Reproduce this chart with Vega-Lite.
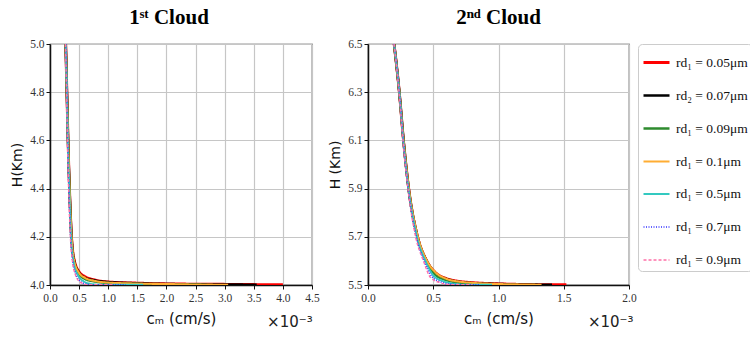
{
  "$schema": "https://vega.github.io/schema/vega-lite/v6.json",
  "padding": {"left": 10, "top": 6, "right": 0, "bottom": 0},
  "background": "white",
  "datasets": {
    "curves": [
      {"cloud":1,"series":"rd₁ = 0.05μm","x":0.27,"H":5.0},{"cloud":1,"series":"rd₁ = 0.05μm","x":0.29,"H":4.8},{"cloud":1,"series":"rd₁ = 0.05μm","x":0.31,"H":4.6},{"cloud":1,"series":"rd₁ = 0.05μm","x":0.335,"H":4.4},{"cloud":1,"series":"rd₁ = 0.05μm","x":0.37,"H":4.2},{"cloud":1,"series":"rd₁ = 0.05μm","x":0.42,"H":4.1},{"cloud":1,"series":"rd₁ = 0.05μm","x":0.5,"H":4.055},{"cloud":1,"series":"rd₁ = 0.05μm","x":0.6,"H":4.035},{"cloud":1,"series":"rd₁ = 0.05μm","x":0.75,"H":4.022},{"cloud":1,"series":"rd₁ = 0.05μm","x":1.0,"H":4.013},{"cloud":1,"series":"rd₁ = 0.05μm","x":1.5,"H":4.008},{"cloud":1,"series":"rd₁ = 0.05μm","x":2.0,"H":4.005},{"cloud":1,"series":"rd₁ = 0.05μm","x":3.0,"H":4.003},{"cloud":1,"series":"rd₁ = 0.05μm","x":4.0,"H":4.001},
      {"cloud":1,"series":"rd₂ = 0.07μm","x":0.27,"H":5.0},{"cloud":1,"series":"rd₂ = 0.07μm","x":0.29,"H":4.8},{"cloud":1,"series":"rd₂ = 0.07μm","x":0.31,"H":4.6},{"cloud":1,"series":"rd₂ = 0.07μm","x":0.335,"H":4.4},{"cloud":1,"series":"rd₂ = 0.07μm","x":0.37,"H":4.2},{"cloud":1,"series":"rd₂ = 0.07μm","x":0.415,"H":4.1},{"cloud":1,"series":"rd₂ = 0.07μm","x":0.5,"H":4.05},{"cloud":1,"series":"rd₂ = 0.07μm","x":0.6,"H":4.03},{"cloud":1,"series":"rd₂ = 0.07μm","x":0.75,"H":4.02},{"cloud":1,"series":"rd₂ = 0.07μm","x":1.0,"H":4.012},{"cloud":1,"series":"rd₂ = 0.07μm","x":1.5,"H":4.007},{"cloud":1,"series":"rd₂ = 0.07μm","x":2.0,"H":4.004},{"cloud":1,"series":"rd₂ = 0.07μm","x":3.0,"H":4.002},{"cloud":1,"series":"rd₂ = 0.07μm","x":3.55,"H":4.001},
      {"cloud":1,"series":"rd₁ = 0.09μm","x":0.27,"H":5.0},{"cloud":1,"series":"rd₁ = 0.09μm","x":0.29,"H":4.8},{"cloud":1,"series":"rd₁ = 0.09μm","x":0.31,"H":4.6},{"cloud":1,"series":"rd₁ = 0.09μm","x":0.335,"H":4.4},{"cloud":1,"series":"rd₁ = 0.09μm","x":0.365,"H":4.2},{"cloud":1,"series":"rd₁ = 0.09μm","x":0.41,"H":4.1},{"cloud":1,"series":"rd₁ = 0.09μm","x":0.5,"H":4.045},{"cloud":1,"series":"rd₁ = 0.09μm","x":0.6,"H":4.025},{"cloud":1,"series":"rd₁ = 0.09μm","x":0.75,"H":4.015},{"cloud":1,"series":"rd₁ = 0.09μm","x":1.0,"H":4.008},{"cloud":1,"series":"rd₁ = 0.09μm","x":1.5,"H":4.004},{"cloud":1,"series":"rd₁ = 0.09μm","x":2.0,"H":4.002},{"cloud":1,"series":"rd₁ = 0.09μm","x":2.6,"H":4.001},
      {"cloud":1,"series":"rd₁ = 0.1μm","x":0.27,"H":5.0},{"cloud":1,"series":"rd₁ = 0.1μm","x":0.29,"H":4.8},{"cloud":1,"series":"rd₁ = 0.1μm","x":0.31,"H":4.6},{"cloud":1,"series":"rd₁ = 0.1μm","x":0.335,"H":4.4},{"cloud":1,"series":"rd₁ = 0.1μm","x":0.37,"H":4.2},{"cloud":1,"series":"rd₁ = 0.1μm","x":0.415,"H":4.1},{"cloud":1,"series":"rd₁ = 0.1μm","x":0.5,"H":4.05},{"cloud":1,"series":"rd₁ = 0.1μm","x":0.6,"H":4.03},{"cloud":1,"series":"rd₁ = 0.1μm","x":0.75,"H":4.018},{"cloud":1,"series":"rd₁ = 0.1μm","x":1.0,"H":4.01},{"cloud":1,"series":"rd₁ = 0.1μm","x":1.5,"H":4.006},{"cloud":1,"series":"rd₁ = 0.1μm","x":2.0,"H":4.004},{"cloud":1,"series":"rd₁ = 0.1μm","x":2.5,"H":4.002},{"cloud":1,"series":"rd₁ = 0.1μm","x":3.06,"H":4.001},
      {"cloud":1,"series":"rd₁ = 0.5μm","x":0.27,"H":5.0},{"cloud":1,"series":"rd₁ = 0.5μm","x":0.29,"H":4.8},{"cloud":1,"series":"rd₁ = 0.5μm","x":0.305,"H":4.6},{"cloud":1,"series":"rd₁ = 0.5μm","x":0.33,"H":4.4},{"cloud":1,"series":"rd₁ = 0.5μm","x":0.36,"H":4.2},{"cloud":1,"series":"rd₁ = 0.5μm","x":0.4,"H":4.1},{"cloud":1,"series":"rd₁ = 0.5μm","x":0.48,"H":4.04},{"cloud":1,"series":"rd₁ = 0.5μm","x":0.58,"H":4.015},{"cloud":1,"series":"rd₁ = 0.5μm","x":0.7,"H":4.005},{"cloud":1,"series":"rd₁ = 0.5μm","x":0.85,"H":4.001},{"cloud":1,"series":"rd₁ = 0.5μm","x":1.6,"H":4.001},
      {"cloud":1,"series":"rd₁ = 0.7μm","x":0.27,"H":5.0},{"cloud":1,"series":"rd₁ = 0.7μm","x":0.29,"H":4.8},{"cloud":1,"series":"rd₁ = 0.7μm","x":0.305,"H":4.6},{"cloud":1,"series":"rd₁ = 0.7μm","x":0.325,"H":4.4},{"cloud":1,"series":"rd₁ = 0.7μm","x":0.355,"H":4.2},{"cloud":1,"series":"rd₁ = 0.7μm","x":0.39,"H":4.1},{"cloud":1,"series":"rd₁ = 0.7μm","x":0.45,"H":4.04},{"cloud":1,"series":"rd₁ = 0.7μm","x":0.52,"H":4.015},{"cloud":1,"series":"rd₁ = 0.7μm","x":0.6,"H":4.005},{"cloud":1,"series":"rd₁ = 0.7μm","x":0.7,"H":4.001},{"cloud":1,"series":"rd₁ = 0.7μm","x":1.3,"H":4.001},
      {"cloud":1,"series":"rd₁ = 0.9μm","x":0.265,"H":5.0},{"cloud":1,"series":"rd₁ = 0.9μm","x":0.285,"H":4.8},{"cloud":1,"series":"rd₁ = 0.9μm","x":0.3,"H":4.6},{"cloud":1,"series":"rd₁ = 0.9μm","x":0.32,"H":4.4},{"cloud":1,"series":"rd₁ = 0.9μm","x":0.35,"H":4.2},{"cloud":1,"series":"rd₁ = 0.9μm","x":0.385,"H":4.1},{"cloud":1,"series":"rd₁ = 0.9μm","x":0.44,"H":4.04},{"cloud":1,"series":"rd₁ = 0.9μm","x":0.5,"H":4.015},{"cloud":1,"series":"rd₁ = 0.9μm","x":0.58,"H":4.005},{"cloud":1,"series":"rd₁ = 0.9μm","x":0.65,"H":4.001},{"cloud":1,"series":"rd₁ = 0.9μm","x":1.1,"H":4.001},

      {"cloud":2,"series":"rd₁ = 0.05μm","x":0.2,"H":6.5},{"cloud":2,"series":"rd₁ = 0.05μm","x":0.24,"H":6.3},{"cloud":2,"series":"rd₁ = 0.05μm","x":0.272,"H":6.1},{"cloud":2,"series":"rd₁ = 0.05μm","x":0.312,"H":5.9},{"cloud":2,"series":"rd₁ = 0.05μm","x":0.38,"H":5.7},{"cloud":2,"series":"rd₁ = 0.05μm","x":0.45,"H":5.6},{"cloud":2,"series":"rd₁ = 0.05μm","x":0.52,"H":5.55},{"cloud":2,"series":"rd₁ = 0.05μm","x":0.6,"H":5.527},{"cloud":2,"series":"rd₁ = 0.05μm","x":0.7,"H":5.515},{"cloud":2,"series":"rd₁ = 0.05μm","x":0.8,"H":5.51},{"cloud":2,"series":"rd₁ = 0.05μm","x":1.0,"H":5.505},{"cloud":2,"series":"rd₁ = 0.05μm","x":1.25,"H":5.502},{"cloud":2,"series":"rd₁ = 0.05μm","x":1.52,"H":5.501},
      {"cloud":2,"series":"rd₂ = 0.07μm","x":0.2,"H":6.5},{"cloud":2,"series":"rd₂ = 0.07μm","x":0.24,"H":6.3},{"cloud":2,"series":"rd₂ = 0.07μm","x":0.272,"H":6.1},{"cloud":2,"series":"rd₂ = 0.07μm","x":0.312,"H":5.9},{"cloud":2,"series":"rd₂ = 0.07μm","x":0.38,"H":5.7},{"cloud":2,"series":"rd₂ = 0.07μm","x":0.45,"H":5.6},{"cloud":2,"series":"rd₂ = 0.07μm","x":0.52,"H":5.548},{"cloud":2,"series":"rd₂ = 0.07μm","x":0.6,"H":5.525},{"cloud":2,"series":"rd₂ = 0.07μm","x":0.7,"H":5.513},{"cloud":2,"series":"rd₂ = 0.07μm","x":0.8,"H":5.508},{"cloud":2,"series":"rd₂ = 0.07μm","x":1.0,"H":5.504},{"cloud":2,"series":"rd₂ = 0.07μm","x":1.2,"H":5.502},{"cloud":2,"series":"rd₂ = 0.07μm","x":1.41,"H":5.501},
      {"cloud":2,"series":"rd₁ = 0.09μm","x":0.2,"H":6.5},{"cloud":2,"series":"rd₁ = 0.09μm","x":0.24,"H":6.3},{"cloud":2,"series":"rd₁ = 0.09μm","x":0.272,"H":6.1},{"cloud":2,"series":"rd₁ = 0.09μm","x":0.31,"H":5.9},{"cloud":2,"series":"rd₁ = 0.09μm","x":0.378,"H":5.7},{"cloud":2,"series":"rd₁ = 0.09μm","x":0.445,"H":5.6},{"cloud":2,"series":"rd₁ = 0.09μm","x":0.51,"H":5.545},{"cloud":2,"series":"rd₁ = 0.09μm","x":0.6,"H":5.52},{"cloud":2,"series":"rd₁ = 0.09μm","x":0.7,"H":5.51},{"cloud":2,"series":"rd₁ = 0.09μm","x":0.8,"H":5.505},{"cloud":2,"series":"rd₁ = 0.09μm","x":0.9,"H":5.502},{"cloud":2,"series":"rd₁ = 0.09μm","x":1.0,"H":5.501},
      {"cloud":2,"series":"rd₁ = 0.1μm","x":0.2,"H":6.5},{"cloud":2,"series":"rd₁ = 0.1μm","x":0.24,"H":6.3},{"cloud":2,"series":"rd₁ = 0.1μm","x":0.272,"H":6.1},{"cloud":2,"series":"rd₁ = 0.1μm","x":0.313,"H":5.9},{"cloud":2,"series":"rd₁ = 0.1μm","x":0.382,"H":5.7},{"cloud":2,"series":"rd₁ = 0.1μm","x":0.452,"H":5.6},{"cloud":2,"series":"rd₁ = 0.1μm","x":0.522,"H":5.55},{"cloud":2,"series":"rd₁ = 0.1μm","x":0.6,"H":5.526},{"cloud":2,"series":"rd₁ = 0.1μm","x":0.7,"H":5.514},{"cloud":2,"series":"rd₁ = 0.1μm","x":0.8,"H":5.509},{"cloud":2,"series":"rd₁ = 0.1μm","x":1.0,"H":5.504},{"cloud":2,"series":"rd₁ = 0.1μm","x":1.2,"H":5.502},{"cloud":2,"series":"rd₁ = 0.1μm","x":1.33,"H":5.501},
      {"cloud":2,"series":"rd₁ = 0.5μm","x":0.2,"H":6.5},{"cloud":2,"series":"rd₁ = 0.5μm","x":0.24,"H":6.3},{"cloud":2,"series":"rd₁ = 0.5μm","x":0.27,"H":6.1},{"cloud":2,"series":"rd₁ = 0.5μm","x":0.31,"H":5.9},{"cloud":2,"series":"rd₁ = 0.5μm","x":0.375,"H":5.7},{"cloud":2,"series":"rd₁ = 0.5μm","x":0.44,"H":5.6},{"cloud":2,"series":"rd₁ = 0.5μm","x":0.5,"H":5.54},{"cloud":2,"series":"rd₁ = 0.5μm","x":0.58,"H":5.515},{"cloud":2,"series":"rd₁ = 0.5μm","x":0.66,"H":5.505},{"cloud":2,"series":"rd₁ = 0.5μm","x":0.75,"H":5.501},{"cloud":2,"series":"rd₁ = 0.5μm","x":0.95,"H":5.501},
      {"cloud":2,"series":"rd₁ = 0.7μm","x":0.2,"H":6.5},{"cloud":2,"series":"rd₁ = 0.7μm","x":0.24,"H":6.3},{"cloud":2,"series":"rd₁ = 0.7μm","x":0.27,"H":6.1},{"cloud":2,"series":"rd₁ = 0.7μm","x":0.308,"H":5.9},{"cloud":2,"series":"rd₁ = 0.7μm","x":0.37,"H":5.7},{"cloud":2,"series":"rd₁ = 0.7μm","x":0.43,"H":5.6},{"cloud":2,"series":"rd₁ = 0.7μm","x":0.49,"H":5.535},{"cloud":2,"series":"rd₁ = 0.7μm","x":0.56,"H":5.512},{"cloud":2,"series":"rd₁ = 0.7μm","x":0.64,"H":5.503},{"cloud":2,"series":"rd₁ = 0.7μm","x":0.72,"H":5.501},{"cloud":2,"series":"rd₁ = 0.7μm","x":0.85,"H":5.501},
      {"cloud":2,"series":"rd₁ = 0.9μm","x":0.2,"H":6.5},{"cloud":2,"series":"rd₁ = 0.9μm","x":0.238,"H":6.3},{"cloud":2,"series":"rd₁ = 0.9μm","x":0.268,"H":6.1},{"cloud":2,"series":"rd₁ = 0.9μm","x":0.306,"H":5.9},{"cloud":2,"series":"rd₁ = 0.9μm","x":0.365,"H":5.7},{"cloud":2,"series":"rd₁ = 0.9μm","x":0.425,"H":5.6},{"cloud":2,"series":"rd₁ = 0.9μm","x":0.48,"H":5.53},{"cloud":2,"series":"rd₁ = 0.9μm","x":0.55,"H":5.51},{"cloud":2,"series":"rd₁ = 0.9μm","x":0.62,"H":5.502},{"cloud":2,"series":"rd₁ = 0.9μm","x":0.7,"H":5.501},{"cloud":2,"series":"rd₁ = 0.9μm","x":0.8,"H":5.501}
    ],
    "notes": [
      {"cloud":1,"x":4.12,"H":3.846,"label":"×10⁻³"},
      {"cloud":2,"x":1.86,"H":5.346,"label":"×10⁻³"}
    ]
  },
  "hconcat": [
    {
      "width": 262, "height": 241,
      "title": {"text": "1ˢᵗ Cloud", "dx": -12},
      "encoding": {
        "x": {"field": "x", "type": "quantitative", "scale": {"domain": [0, 4.5], "nice": false, "zero": false},
              "axis": {"values": [0,0.5,1,1.5,2,2.5,3,3.5,4,4.5], "format": ".1f", "title": "cₘ (cm/s)"}},
        "y": {"field": "H", "type": "quantitative", "scale": {"domain": [4, 5], "nice": false, "zero": false},
              "axis": {"values": [4,4.2,4.4,4.6,4.8,5], "format": ".1f", "title": "H(Km)"}}
      },
      "layer": [
        {
          "data": {"name": "curves"},
          "transform": [{"filter": "datum.cloud == 1"}],
          "mark": {"type": "line", "interpolate": "monotone", "clip": true},
          "encoding": {
            "color": {"field": "series", "type": "nominal", "legend": {"title": null},
                      "scale": {"domain": ["rd₁ = 0.05μm","rd₂ = 0.07μm","rd₁ = 0.09μm","rd₁ = 0.1μm","rd₁ = 0.5μm","rd₁ = 0.7μm","rd₁ = 0.9μm"],
                                "range": ["#ff0000", "#000000", "#2e8b2e", "#ffad33", "#33c9c0", "#3333ff", "#ff6fa8"]}},
            "strokeDash": {"field": "series", "type": "nominal", "legend": {"title": null},
                      "scale": {"domain": ["rd₁ = 0.05μm","rd₂ = 0.07μm","rd₁ = 0.09μm","rd₁ = 0.1μm","rd₁ = 0.5μm","rd₁ = 0.7μm","rd₁ = 0.9μm"],
                                "range": [[1,0],[1,0],[1,0],[1,0],[1,0],[1,1.5],[3,2]]}},
            "strokeWidth": {"field": "series", "type": "nominal", "legend": {"title": null},
                      "scale": {"domain": ["rd₁ = 0.05μm","rd₂ = 0.07μm","rd₁ = 0.09μm","rd₁ = 0.1μm","rd₁ = 0.5μm","rd₁ = 0.7μm","rd₁ = 0.9μm"],
                                "range": [2.8, 1.4, 1.4, 1.4, 1.4, 1.3, 1.2]}}
          }
        },
        {
          "data": {"name": "notes"},
          "transform": [{"filter": "datum.cloud == 1"}],
          "mark": {"type": "text", "font": "DejaVu Sans", "fontSize": 15, "color": "#222", "clip": false},
          "encoding": {"text": {"field": "label"}}
        }
      ]
    },
    {
      "width": 261, "height": 241,
      "title": {"text": "2ⁿᵈ Cloud"},
      "encoding": {
        "x": {"field": "x", "type": "quantitative", "scale": {"domain": [0, 2], "nice": false, "zero": false},
              "axis": {"values": [0,0.5,1,1.5,2], "format": ".1f", "title": "cₘ (cm/s)"}},
        "y": {"field": "H", "type": "quantitative", "scale": {"domain": [5.5, 6.5], "nice": false, "zero": false},
              "axis": {"values": [5.5,5.7,5.9,6.1,6.3,6.5], "format": ".1f", "title": "H (Km)"}}
      },
      "layer": [
        {
          "data": {"name": "curves"},
          "transform": [{"filter": "datum.cloud == 2"}],
          "mark": {"type": "line", "interpolate": "monotone", "clip": true},
          "encoding": {
            "color": {"field": "series", "type": "nominal", "legend": {"title": null}},
            "strokeDash": {"field": "series", "type": "nominal", "legend": {"title": null}},
            "strokeWidth": {"field": "series", "type": "nominal", "legend": {"title": null}}
          }
        },
        {
          "data": {"name": "notes"},
          "transform": [{"filter": "datum.cloud == 2"}],
          "mark": {"type": "text", "font": "DejaVu Sans", "fontSize": 15, "color": "#222", "clip": false},
          "encoding": {"text": {"field": "label"}}
        }
      ]
    }
  ],
  "spacing": 8,
  "resolve": {"scale": {"color": "shared", "strokeDash": "shared", "strokeWidth": "shared"}},
  "config": {
    "view": {"stroke": "#333", "strokeWidth": 1.2},
    "title": {"font": "Liberation Serif", "fontSize": 21, "fontWeight": "bold", "color": "#000", "offset": 10, "frame": "group"},
    "axis": {
      "grid": true, "gridColor": "#c6c6c6", "gridWidth": 1.2,
      "domainColor": "#111", "domainWidth": 1.5,
      "tickColor": "#111", "tickSize": 4,
      "labelFont": "Liberation Serif", "labelFontSize": 11.5, "labelColor": "#333",
      "labelOverlap": false, "labelFlush": false,
      "titleFont": "DejaVu Sans", "titleFontWeight": "normal", "titleColor": "#111"
    },
    "axisX": {"titleFontSize": 15, "titlePadding": 8, "labelPadding": 3},
    "axisY": {"titleFontSize": 14, "titlePadding": 5, "labelPadding": 2},
    "legend": {
      "orient": "right", "offset": 1,
      "strokeColor": "#cccccc", "cornerRadius": 4, "padding": 4,
      "symbolType": "stroke", "symbolSize": 676, "symbolStrokeWidth": 1.5,
      "labelFont": "Liberation Serif", "labelFontSize": 13.5, "labelColor": "#111", "labelOffset": 5,
      "rowPadding": 12, "labelLimit": 200
    }
  }
}
